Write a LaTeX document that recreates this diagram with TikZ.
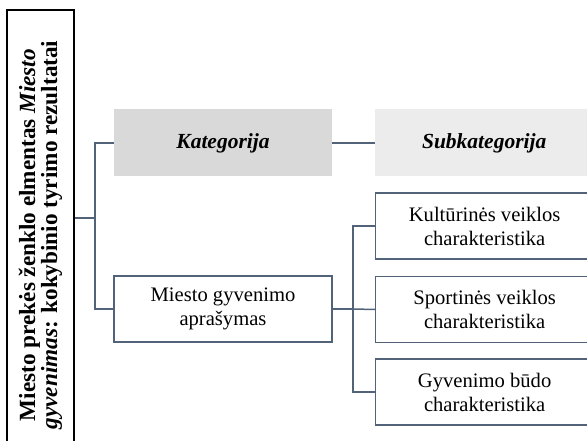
\documentclass[tikz,border=0pt]{standalone}
\usepackage{fontspec}
\setmainfont{Liberation Serif}
\begin{document}
\definecolor{lc}{RGB}{82,98,120}
\definecolor{hdA}{RGB}{217,217,217}
\definecolor{hdB}{RGB}{236,236,236}
\begin{tikzpicture}[x=1pt,y=-1pt,
  wire/.style={draw=lc,line width=1.5pt},
  cat/.style={draw=lc,line width=1.3pt,fill=white,minimum width=218pt,minimum height=66pt,
    align=center,inner sep=0pt,font=\fontsize{20.6}{24}\selectfont},
  head/.style={minimum width=218pt,minimum height=67pt,inner sep=0pt,
    font=\fontsize{21.5}{24}\selectfont\bfseries\itshape}]
\useasboundingbox (0,0) rectangle (587,441);
\clip (0,0) rectangle (587,441);
% title box, running past the lower edge
\node (title) [rotate=90,draw=black,line width=1.5pt,minimum width=450pt,minimum height=67pt,
  inner sep=0pt,align=center,font=\fontsize{23.2}{20}\selectfont\bfseries]
  at (40.5,235) {Miesto prekės ženklo elmentas \textit{Miesto}\\
  \textit{gyvenimas}: kokybinio tyrimo rezultatai};
% column headings
\node (kat) [head,fill=hdA] at (223,143) {Kategorija};
\node (sub) [head,fill=hdB,anchor=west] at (375,143) {Subkategorija};
% category
\node (mgv) [cat] at (223,309) {Miesto gyvenimo\\aprašymas};
% subcategories
\node (s1) [cat,anchor=west] at (375,226) {Kultūrinės veiklos\\charakteristika};
\node (s2) [cat,anchor=west] at (375,309.5) {Sportinės veiklos\\charakteristika};
\node (s3) [cat,anchor=west] at (375,392) {Gyvenimo būdo\\charakteristika};
% connectors
\coordinate (j0) at (95,218);
\coordinate (j1) at (353,309);
\draw[wire] (title.south |- j0) -- (j0);
\draw[wire] (kat.west) -| (j0) |- (mgv.west);
\draw[wire] (kat.east) -- (sub.west);
\draw[wire] (mgv.east) -- (j1);
\draw[wire] (s1.west) -| (j1) |- (s3.west);
\draw[wire] (j1) -- (s2.west);
\end{tikzpicture}
\end{document}
